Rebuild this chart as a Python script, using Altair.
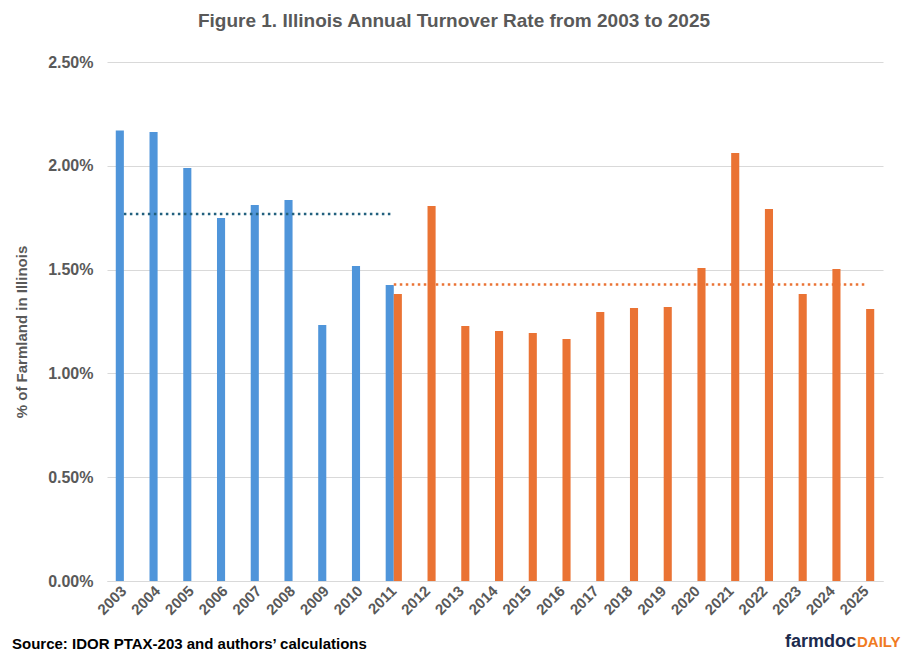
import altair as alt
import pandas as pd

years = [str(y) for y in range(2003, 2026)]
blue_years = [str(y) for y in range(2003, 2012)]
blue_vals = [2.170, 2.163, 1.990, 1.749, 1.811, 1.835, 1.233, 1.517, 1.426]
orange_years = [str(y) for y in range(2011, 2026)]
orange_vals = [1.382, 1.806, 1.228, 1.204, 1.195, 1.166, 1.296, 1.315, 1.320,
               1.508, 2.062, 1.792, 1.382, 1.503, 1.310]
blue_avg = 1.768
orange_avg = 1.428

BLUE = "#4F95DA"
ORANGE = "#EA7334"
TEAL = "#22607E"
GRAY = "#595959"
FONT = "Liberation Sans"

rows = []
for y, v in zip(blue_years, blue_vals):
    rows.append({"year": y, "series": "A", "value": v / 100})
for y, v in zip(orange_years, orange_vals):
    rows.append({"year": y, "series": "B", "value": v / 100})
bars_df = pd.DataFrame(rows)

lines_df = pd.DataFrame(
    [{"year": y, "series": "A", "value": blue_avg / 100} for y in blue_years]
    + [{"year": y, "series": "B", "value": orange_avg / 100} for y in orange_years]
)

xscale = alt.Scale(domain=years, paddingInner=0.52, paddingOuter=0.26)
yscale = alt.Scale(domain=[0, 0.025], nice=False)
cscale = alt.Scale(domain=["A", "B"], range=[BLUE, ORANGE])

xaxis = alt.Axis(title=None, labelAngle=-45, labelFont=FONT, labelFontSize=15,
                 labelFontWeight="bold", labelColor=GRAY, ticks=False,
                 domainColor="#D9D9D9", labelPadding=7, labelAlign="right",
                 labelBaseline="middle", grid=False)
yaxis = alt.Axis(title=None, values=[0, 0.005, 0.01, 0.015, 0.02, 0.025],
                 format=".2%", labelFont=FONT, labelFontSize=16,
                 labelFontWeight="bold", labelColor=GRAY, ticks=False,
                 domain=False, gridColor="#D9D9D9", labelPadding=14)

bars = alt.Chart(bars_df).mark_bar().encode(
    x=alt.X("year:N", scale=xscale, axis=xaxis),
    xOffset=alt.XOffset("series:N", scale=alt.Scale(domain=["A", "B"])),
    y=alt.Y("value:Q", scale=yscale, axis=yaxis),
    color=alt.Color("series:N", scale=cscale, legend=None),
)

line_a = alt.Chart(lines_df[lines_df.series == "A"]).mark_line(
    color=TEAL, strokeDash=[2.5, 3.5], strokeWidth=2.5
).encode(x=alt.X("year:N", scale=xscale), y=alt.Y("value:Q", scale=yscale))

line_b = alt.Chart(lines_df[lines_df.series == "B"]).mark_line(
    color=ORANGE, strokeDash=[2.5, 3.5], strokeWidth=2.5
).encode(x=alt.X("year:N", scale=xscale), y=alt.Y("value:Q", scale=yscale))

def txt(text, x, y, size, color, weight="bold", align="left", baseline="middle", angle=0):
    d = pd.DataFrame({"t": [text]})
    kw = dict(font=FONT, fontSize=size, fontWeight=weight, color=color,
              align=align, baseline=baseline)
    if angle:
        kw["angle"] = angle
    return alt.Chart(d).mark_text(**kw).encode(
        text="t:N", x=alt.value(x), y=alt.value(y))

title = txt("Figure 1. Illinois Annual Turnover Rate from 2003 to 2025", 347, -41, 19, GRAY, align="center")
ytitle = txt("% of Farmland in Illinois", -85, 270, 15, GRAY, align="center", angle=270)
source = txt("Source: IDOR PTAX-203 and authors\u2019 calculations", -95, 582, 15, "#000000")
logo1 = txt("farmdoc", 678, 585, 18, "#1C2B4E", baseline="alphabetic")
logo2 = txt("DAILY", 750, 585, 15, "#F07A22", baseline="alphabetic")

chart = alt.layer(bars, line_a, line_b, title, ytitle, source, logo1, logo2).resolve_scale(
    color="independent"
).properties(
    width=776, height=519,
    autosize=alt.AutoSizeParams(type="none"),
    padding={"left": 99, "top": 54, "right": 20, "bottom": 72},
    background="white",
).configure_view(stroke=None)

chart.save("out.html", embed_options={"renderer": "svg", "actions": False})
